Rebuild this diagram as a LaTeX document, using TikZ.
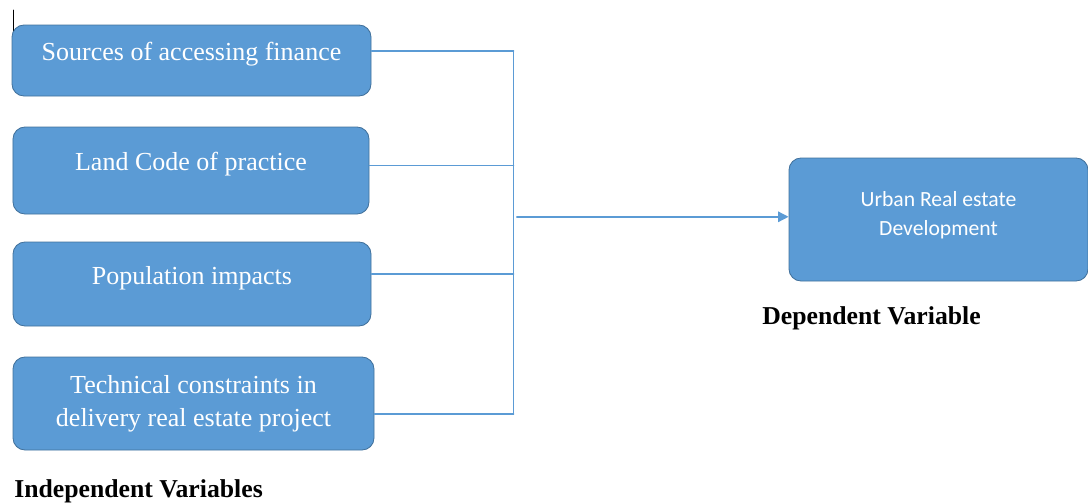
\documentclass[tikz,border=0pt]{standalone}
\usepackage{fontspec}
\setmainfont{Liberation Serif}
\newfontfamily\calibri{Carlito}
\usetikzlibrary{arrows.meta}
\definecolor{boxblue}{HTML}{5B9BD5}
\definecolor{edgeblue}{HTML}{41719C}

\begin{document}
\begin{tikzpicture}[line cap=round,line join=round,
  varbox/.style={draw=edgeblue,line width=0.6pt,fill=boxblue,rounded corners=0.3cm,
    text=white,inner sep=0pt,align=center,font=\fontsize{18.5}{23.5}\selectfont},
  oneline/.style={text height=0.3cm,text depth=0.3cm},
  link/.style={draw=boxblue,line width=1pt},
  heading/.style={anchor=base west,inner sep=0pt,font=\bfseries\fontsize{18.3}{22}\selectfont}]
  \useasboundingbox (0,0) rectangle (27.2,-12.575);
  \draw[line width=0.5pt] (0.325,-0.25) -- (0.325,-0.8);
  \node[varbox,oneline,minimum width=8.975cm,minimum height=1.775cm] (finance) at (4.7875,-1.5125) {Sources of accessing finance};
  \node[varbox,oneline,minimum width=8.9cm,minimum height=2.175cm] (code) at (4.775,-4.2625) {Land Code of practice};
  \node[varbox,oneline,minimum width=8.95cm,minimum height=2.1cm] (pop) at (4.8,-7.1) {Population impacts};
  \node[varbox,minimum width=9.025cm,minimum height=2.325cm] (tech) at (4.8375,-10.0875) {Technical constraints in\\delivery real estate project};
  \node[varbox,minimum width=7.475cm,minimum height=3.075cm,text depth=0.3cm,font=\calibri\fontsize{15.4}{20.6}\selectfont] (urban) at (23.4625,-5.4875) {Urban Real estate\\Development};
  \foreach \n/\j/\y in {finance/jfin/-1.27,code/jcode/-4.14,pop/jpop/-6.85,tech/jtech/-10.35} {
    \coordinate (\j) at (12.84,\y);
    \draw[link] (\n.east |- \j) -- (\j);
  }
  \draw[link] (jfin) -- (jtech);
  \coordinate (jmid) at (12.92,-5.42);
  \draw[link,-{Triangle[length=0.26cm,width=0.26cm]}] (jmid) -- (urban.west |- jmid);
  \node[heading] (indep) at (0.35,-12.425) {Independent Variables};
  \node[heading] (dep) at (19.05,-8.1) {Dependent Variable};
\end{tikzpicture}
\end{document}
